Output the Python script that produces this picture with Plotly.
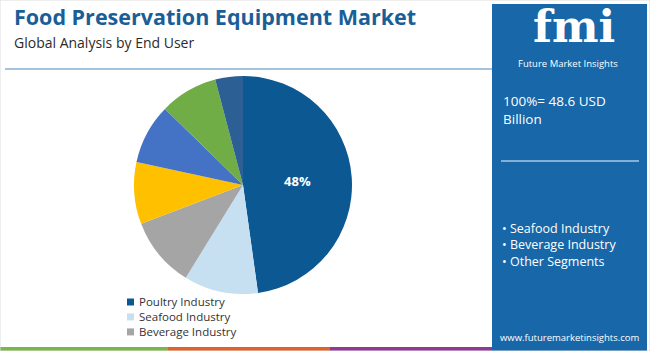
import plotly.graph_objects as go

W, H = 650, 351

# ---- data ----
segments = ["Poultry Industry", "Seafood Industry", "Beverage Industry",
            "Dairy Industry", "Bakery Industry", "Fruits & Vegetables Industry",
            "Other Segments"]
shares = [47.8, 11.0, 10.4, 9.2, 8.9, 8.6, 4.1]
slice_colors = ["#0b5892", "#c6e0f2", "#a5a5a5", "#ffc000", "#4472c4", "#70ad47", "#2c5f93"]
legend_items = segments[:3]
panel_bullets = ["Seafood Industry", "Beverage Industry", "Other Segments"]
total_text = "100%= 48.6 USD<br>Billion"

TITLE = "Food Preservation Equipment Market"
SUBTITLE = "Global Analysis by End User"

FONT = "Open Sans"
PANEL = "#1767a9"


def px(x):
    return x / W


def py(y):
    return 1 - y / H


# pie geometry (pixels)
cx, cy, r = 243, 185, 109

labels_text = [f"{round(v)}%" if i == 0 else "" for i, v in enumerate(shares)]

fig = go.Figure()
fig.add_trace(go.Pie(
    labels=segments,
    values=shares,
    text=labels_text,
    textinfo="text",
    textposition="inside",
    insidetextorientation="horizontal",
    insidetextfont=dict(family=FONT, size=13, color="white", weight="bold"),
    marker=dict(colors=slice_colors, line=dict(width=0)),
    sort=False,
    direction="clockwise",
    rotation=0,
    hoverinfo="label+percent",
    showlegend=False,
    domain=dict(x=[px(cx - r), px(cx + r)], y=[1 - (cy + r) / H, 1 - (cy - r) / H]),
))

shapes = []
annotations = []

# right blue panel
shapes.append(dict(type="rect", xref="paper", yref="paper",
                   x0=px(492), x1=px(647), y0=py(351), y1=py(4),
                   fillcolor=PANEL, line=dict(width=0), layer="below"))
# header separator line
shapes.append(dict(type="line", xref="paper", yref="paper",
                   x0=px(5), x1=px(492), y0=py(69), y1=py(69),
                   line=dict(color="#4a87c0", width=1.2)))
# panel separator line
shapes.append(dict(type="line", xref="paper", yref="paper",
                   x0=px(501), x1=px(639), y0=py(161), y1=py(161),
                   line=dict(color="#a9c9e8", width=1.5)))
# bottom color strip
for (x0, x1, c) in [(0, 168, "#7ab648"), (168, 330, "#e0622b"), (330, 492, "#8e3a96")]:
    shapes.append(dict(type="rect", xref="paper", yref="paper",
                       x0=px(x0), x1=px(x1), y0=py(351), y1=py(347),
                       fillcolor=c, line=dict(width=0)))
# outer thin border
shapes.append(dict(type="rect", xref="paper", yref="paper",
                   x0=0, x1=1, y0=0, y1=1,
                   line=dict(color="#dddddd", width=1)))

# title / subtitle
annotations.append(dict(text=f"<b>{TITLE}</b>", xref="paper", yref="paper",
                        x=px(12), y=py(16.5), xanchor="left", yanchor="middle",
                        showarrow=False, font=dict(family=FONT, size=21.5, color="#1a5e98")))
annotations.append(dict(text=SUBTITLE, xref="paper", yref="paper",
                        x=px(12), y=py(42), xanchor="left", yanchor="middle",
                        showarrow=False, font=dict(family=FONT, size=14, color="#2b2b2b")))

# legend (first three segments)
row0, row_gap = 302, 14.95
for i, col in enumerate(slice_colors[:len(legend_items)]):
    yc = row0 + i * row_gap
    shapes.append(dict(type="rect", xref="paper", yref="paper",
                       x0=px(127), x1=px(134), y0=py(yc + 3.5), y1=py(yc - 3.5),
                       fillcolor=col, line=dict(width=0)))
annotations.append(dict(text="<br>".join(legend_items), xref="paper", yref="paper",
                        x=px(137), y=py(row0 + row_gap * (len(legend_items) - 1) / 2),
                        xanchor="left", yanchor="middle", align="left",
                        showarrow=False, font=dict(family=FONT, size=11.5, color="#333333")))

# logo
annotations.append(dict(text="<b>fmi</b>", xref="paper", yref="paper",
                        x=px(574), y=py(54), xanchor="center", yanchor="bottom",
                        showarrow=False, font=dict(family="DejaVu Serif", size=44, color="white")))
annotations.append(dict(text="Future Market Insights", xref="paper", yref="paper",
                        x=px(568), y=py(54.5), xanchor="center", yanchor="top",
                        showarrow=False, font=dict(family=FONT, size=9.5, color="white")))

# panel texts
annotations.append(dict(text=total_text, xref="paper", yref="paper",
                        x=px(501), y=py(110), xanchor="left", yanchor="middle", align="left",
                        showarrow=False, font=dict(family=FONT, size=13.5, color="white")))
annotations.append(dict(text="<br>".join(f"• {b}" for b in panel_bullets), xref="paper", yref="paper",
                        x=px(500), y=py(245), xanchor="left", yanchor="middle", align="left",
                        showarrow=False, font=dict(family=FONT, size=12.5, color="white")))
annotations.append(dict(text="www.futuremarketinsights.com", xref="paper", yref="paper",
                        x=px(570), y=py(337), xanchor="center", yanchor="middle",
                        showarrow=False, font=dict(family=FONT, size=9.5, color="white")))

fig.update_layout(
    width=W, height=H,
    margin=dict(l=0, r=0, t=0, b=0),
    paper_bgcolor="white",
    plot_bgcolor="white",
    shapes=shapes,
    annotations=annotations,
    showlegend=False,
)

fig.write_html("out.html", config={"displayModeBar": False})
